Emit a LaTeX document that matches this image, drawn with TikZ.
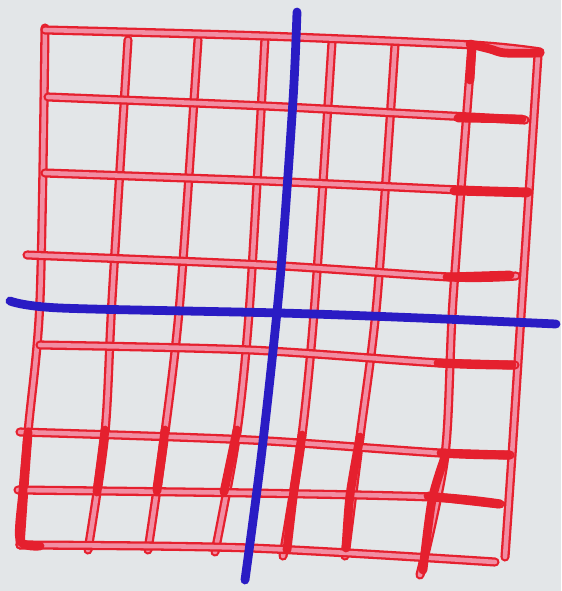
\documentclass[tikz,border=0pt]{standalone}
\usepackage{xcolor}
\usepackage{tikz}
\usetikzlibrary{positioning}

\definecolor{paper}{HTML}{E3E6E8}
\definecolor{penred}{HTML}{E5202E}
\definecolor{penpink}{HTML}{F28DA2}
\definecolor{penblue}{HTML}{2A1CC4}

\begin{document}
\begin{tikzpicture}[
  x=0.02cm, y=-0.02cm,
  gridline/.style={draw=penred, double=penpink, line width=1.3pt, double distance=2.6pt, line cap=round, line join=round},
  heavy/.style={draw=penred, line width=5pt, line cap=round, line join=round},
  axisline/.style={draw=penblue, line width=5pt, line cap=round, line join=round}
]
  \fill[paper] (0,0) rectangle (561,591);

  \draw[gridline] plot[smooth] coordinates {(45,28) (40,300) (28,433) (20,545)};
  \draw[gridline] plot[smooth] coordinates {(128,40) (112,300) (105,432) (88,550)};
  \draw[gridline] plot[smooth] coordinates {(198,40) (180,300) (165,432) (148,550)};
  \draw[gridline] plot[smooth] coordinates {(265,38) (250,300) (237,432) (215,552)};
  \draw[gridline] plot[smooth] coordinates {(332,42) (315,300) (302,435) (283,556)};
  \draw[gridline] plot[smooth] coordinates {(395,45) (377,300) (360,437) (345,556)};
  \draw[gridline] plot[smooth] coordinates {(472,45) (453,300) (445,455) (420,575)};
  \draw[gridline] plot[smooth] coordinates {(538,55) (522,300) (512,455) (505,557)};

  \draw[gridline] plot[smooth] coordinates {(45,30) (265,36) (472,45) (540,52)};
  \draw[gridline] plot[smooth] coordinates {(48,97) (265,106) (395,113) (525,120)};
  \draw[gridline] plot[smooth] coordinates {(45,173) (265,181) (460,190) (528,192)};
  \draw[gridline] plot[smooth] coordinates {(27,255) (265,265) (450,277) (516,276)};
  \draw[gridline] plot[smooth] coordinates {(40,345) (250,350) (440,363) (515,365)};
  \draw[gridline] plot[smooth] coordinates {(20,432) (250,440) (440,453) (510,455)};
  \draw[gridline] plot[smooth] coordinates {(18,490) (250,493) (430,497) (500,504)};
  \draw[gridline] plot[smooth] coordinates {(20,545) (250,548) (495,562)};

  \draw[heavy] plot[smooth] coordinates {(470,44) (490,49) (505,53) (540,53)};
  \draw[heavy] (472,46) -- (470,80);
  \draw[heavy] (458,118) -- (522,119);
  \draw[heavy] (454,191) -- (527,193);
  \draw[heavy] (447,277) -- (510,275);
  \draw[heavy] (438,363) -- (512,365);
  \draw[heavy] (441,453) -- (508,455);
  \draw[heavy] (428,496) -- (498,504);
  \draw[heavy] plot[smooth] coordinates {(28,432) (23,490) (20,540) (40,546)};
  \draw[heavy] (105,430) -- (97,492);
  \draw[heavy] (165,430) -- (157,491);
  \draw[heavy] (237,430) -- (224,492);
  \draw[heavy] plot[smooth] coordinates {(302,435) (294,490) (287,550)};
  \draw[heavy] plot[smooth] coordinates {(360,437) (350,495) (346,548)};
  \draw[heavy] plot[smooth] coordinates {(445,457) (432,500) (423,570)};

  \draw[axisline] plot[smooth] coordinates {(297,12) (293,100) (280,280) (262,450) (245,580)};
  \draw[axisline] plot[smooth] coordinates {(10,301) (60,308) (280,313) (420,318) (556,324)};
\end{tikzpicture}
\end{document}
